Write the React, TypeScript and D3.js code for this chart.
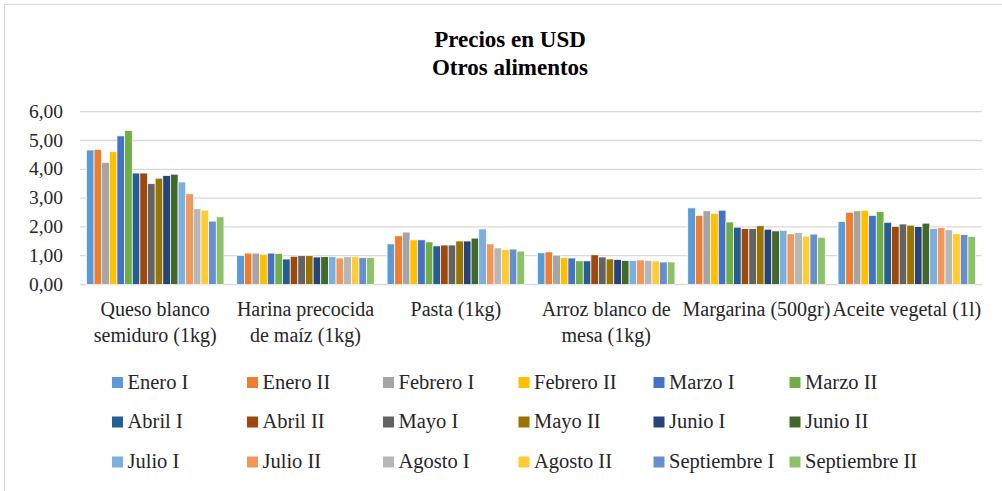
import React from "react";
import * as d3 from "d3";

const categories: string[][] = [
  ["Queso blanco", "semiduro (1kg)"],
  ["Harina precocida", "de maíz (1kg)"],
  ["Pasta (1kg)"],
  ["Arroz blanco de", "mesa (1kg)"],
  ["Margarina (500gr)"],
  ["Aceite vegetal (1l)"],
];
const categoryKeys = categories.map((c) => c.join(" "));

const seriesNames = [
  "Enero I", "Enero II", "Febrero I", "Febrero II", "Marzo I", "Marzo II",
  "Abril I", "Abril II", "Mayo I", "Mayo II", "Junio I", "Junio II",
  "Julio I", "Julio II", "Agosto I", "Agosto II", "Septiembre I", "Septiembre II",
];

const seriesColors = [
  "#5B9BD5", "#ED7D31", "#A5A5A5", "#FFC000", "#4472C4", "#70AD47",
  "#255E91", "#9E480E", "#636363", "#997300", "#264478", "#43682B",
  "#7CAFDD", "#F1975A", "#B7B7B7", "#FFCD33", "#698ED0", "#8CC168",
];

// values per category, ordered like seriesNames
const queso = [4.67, 4.69, 4.24, 4.61, 5.16, 5.35, 3.87, 3.87, 3.5, 3.69, 3.78, 3.83, 3.56, 3.15, 2.63, 2.58, 2.2, 2.35];
const harina = [1.01, 1.09, 1.09, 1.05, 1.09, 1.08, 0.885, 0.98, 1.0, 1.0, 0.955, 0.965, 0.965, 0.92, 0.965, 0.965, 0.93, 0.93];
const pasta = [1.41, 1.69, 1.82, 1.55, 1.55, 1.48, 1.34, 1.37, 1.37, 1.51, 1.51, 1.61, 1.93, 1.41, 1.27, 1.21, 1.23, 1.16];
const arroz = [1.1, 1.13, 1.02, 0.93, 0.92, 0.82, 0.82, 1.03, 0.955, 0.885, 0.87, 0.83, 0.83, 0.85, 0.84, 0.82, 0.78, 0.78];
const margarina = [2.66, 2.4, 2.56, 2.46, 2.58, 2.17, 1.99, 1.94, 1.94, 2.04, 1.92, 1.86, 1.88, 1.76, 1.8, 1.68, 1.75, 1.64];
const aceite = [2.19, 2.51, 2.56, 2.58, 2.4, 2.53, 2.16, 2.02, 2.1, 2.06, 2.01, 2.13, 1.95, 1.97, 1.9, 1.76, 1.73, 1.67];
const values = [queso, harina, pasta, arroz, margarina, aceite];

const yTicks = [0, 1, 2, 3, 4, 5, 6];

const FONT = "'Liberation Serif', 'Times New Roman', serif";

export default function App() {
  const W = 1002;
  const H = 491;
  const plot = { left: 80, right: 982, top: 111.7, bottom: 284.5 };

  const x = d3.scaleBand<string>().domain(categoryKeys).range([plot.left, plot.right]).padding(0);
  const xs = d3
    .scaleBand<string>()
    .domain(seriesNames)
    .range([0, x.bandwidth()])
    .paddingInner(0)
    .paddingOuter(0.84);
  const y = d3.scaleLinear().domain([0, 6]).range([plot.bottom, plot.top]);
  const fmt = (v: number) => d3.format(".2f")(v).replace(".", ",");

  const legendCols = [112, 247, 383, 518.5, 653.5, 789.5];
  const legendRows = [382.5, 422, 462];

  return (
    <svg
      width={W}
      height={H}
      style={{ position: "absolute", left: 0, top: 0, background: "#fff" }}
      fontFamily={FONT}
    >
      <rect x={0} y={0} width={W} height={H} fill="#fff" />
      <rect x={4.5} y={4.5} width={1020} height={520} fill="none" stroke="#D9D9D9" strokeWidth={1} />

      <text x={510} y={47} textAnchor="middle" fontSize={23} fontWeight="bold" fill="#000">
        Precios en USD
      </text>
      <text x={510} y={74.5} textAnchor="middle" fontSize={23} fontWeight="bold" fill="#000">
        Otros alimentos
      </text>

      {yTicks.map((t) => (
        <g key={t}>
          <line
            x1={plot.left}
            x2={plot.right}
            y1={y(t)}
            y2={y(t)}
            stroke="#D9D9D9"
            strokeWidth={1.3}
          />
          <text x={63} y={y(t) + 6} textAnchor="end" fontSize={19.5} fill="#262626">
            {fmt(t)}
          </text>
        </g>
      ))}

      {categoryKeys.map((ck, ci) => (
        <g key={ck} transform={`translate(${x(ck)},0)`}>
          {seriesNames.map((s, si) => {
            const v = values[ci][si];
            return (
              <rect
                key={s}
                x={xs(s)}
                y={y(v)}
                width={xs.bandwidth()}
                height={y(0) - y(v)}
                fill={seriesColors[si]}
                stroke="#fff"
                strokeWidth={0.7}
              />
            );
          })}
        </g>
      ))}

      {categories.map((lines, ci) => (
        <text
          key={ci}
          x={(x(categoryKeys[ci]) as number) + x.bandwidth() / 2}
          y={316}
          textAnchor="middle"
          fontSize={20}
          fill="#262626"
        >
          {lines.map((l, li) => (
            <tspan key={li} x={(x(categoryKeys[ci]) as number) + x.bandwidth() / 2} dy={li === 0 ? 0 : 25.5}>
              {l}
            </tspan>
          ))}
        </text>
      ))}

      {seriesNames.map((s, i) => {
        const cx = legendCols[i % 6];
        const cy = legendRows[Math.floor(i / 6)];
        return (
          <g key={s}>
            <rect x={cx} y={cy - 5.5} width={11} height={11} fill={seriesColors[i]} />
            <text x={cx + 15.5} y={cy + 6} fontSize={20.5} fill="#262626">
              {s}
            </text>
          </g>
        );
      })}
    </svg>
  );
}
